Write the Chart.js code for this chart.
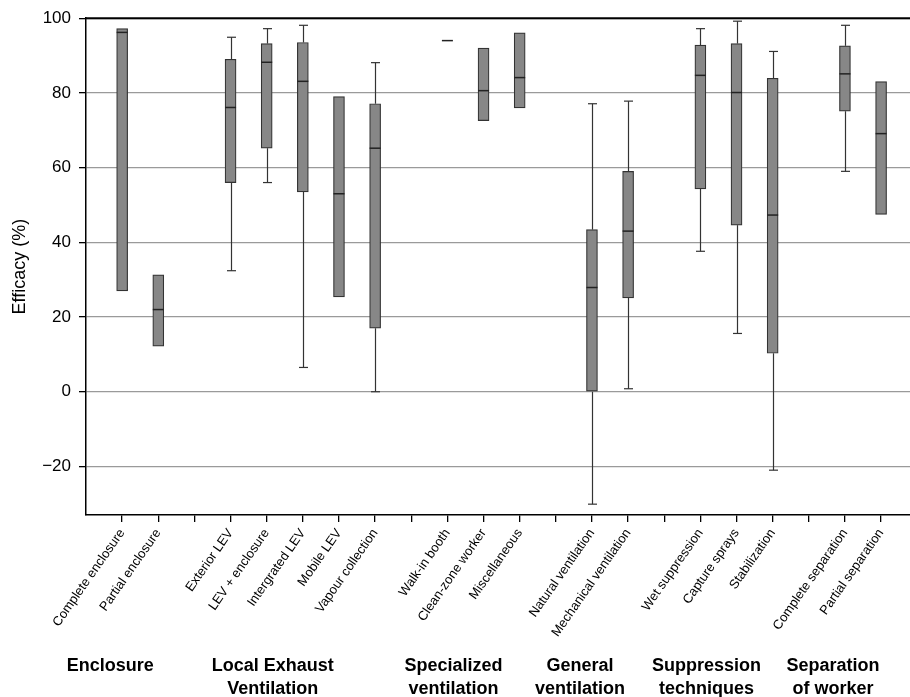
<!DOCTYPE html>
<html>
<head>
<meta charset="utf-8">
<script src="https://cdn.jsdelivr.net/npm/chart.js@4"></script>
<style>
  body { margin: 0; background: #fff; }
</style>
</head>
<body>
<canvas id="c" width="910" height="697"></canvas>
<script>
// control types, one entry per box
const categories = ['Complete enclosure', 'Partial enclosure',
  'Exterior LEV', 'LEV + enclosure', 'Intergrated LEV', 'Mobile LEV', 'Vapour collection',
  'Walk-in booth', 'Clean-zone worker', 'Miscellaneous',
  'Natural ventilation', 'Mechanical ventilation',
  'Wet suppression', 'Capture sprays', 'Stabilization',
  'Complete separation', 'Partial separation'];
const groupOf = [0, 0, 1, 1, 1, 1, 1, 2, 2, 2, 3, 3, 4, 4, 4, 5, 5];
const groupLabels = [['Enclosure'], ['Local Exhaust', 'Ventilation'], ['Specialized', 'ventilation'],
  ['General', 'ventilation'], ['Suppression', 'techniques'], ['Separation', 'of worker']];

const mins    = [27.0, 12.2, 32.4, 56.0, 6.5, 25.4, 0.0, 94, 72.6, 76.0, -30.1, 0.8, 37.6, 15.6, -21.0, 59.0, 47.5];
const q1s     = [27.0, 12.2, 56.0, 65.2, 53.5, 25.4, 17.0, 94, 72.6, 76.0, 0.0, 25.1, 54.3, 44.6, 10.3, 75.1, 47.5];
const medians = [96.2, 22.0, 76.1, 88.2, 83.1, 53.0, 65.2, 94, 80.6, 84.1, 27.9, 43.0, 84.7, 80.1, 47.3, 85.1, 69.1];
const q3s     = [97.2, 31.3, 89.0, 93.2, 93.5, 79.0, 77.1, 94, 92.0, 96.1, 43.4, 59.0, 92.8, 93.2, 83.9, 92.6, 83.0];
const maxs    = [97.2, 31.3, 94.9, 97.2, 98.1, 79.0, 88.1, 94, 92.0, 96.1, 77.1, 77.8, 97.2, 99.2, 91.1, 98.1, 83.0];

const yTicks = [-20, 0, 20, 40, 60, 80, 100];

const FONT = "'Liberation Sans', Arial, sans-serif";

// one empty slot between groups
const slots = categories.map((c, i) => i + groupOf[i]);
const slotLabels = {};
slots.forEach((s, i) => slotLabels[s] = categories[i]);
const lastSlot = slots[slots.length - 1];

const boxPlugin = {
  id: 'boxParts',
  beforeDatasetsDraw(chart) {
    const { ctx, scales: { x, y } } = chart;
    ctx.save();
    ctx.strokeStyle = '#333';
    ctx.lineWidth = 1.2;
    slots.forEach((s, i) => {
      const px = Math.round(x.getPixelForValue(s)) + 0.5;
      const segs = [];
      if (maxs[i] > q3s[i]) segs.push([q3s[i], maxs[i]]);
      if (mins[i] < q1s[i]) segs.push([mins[i], q1s[i]]);
      segs.forEach(([a, b]) => {
        ctx.beginPath();
        ctx.moveTo(px, y.getPixelForValue(a));
        ctx.lineTo(px, y.getPixelForValue(b));
        ctx.stroke();
      });
      if (maxs[i] > q3s[i]) {
        const py = y.getPixelForValue(maxs[i]);
        ctx.beginPath(); ctx.moveTo(px - 4.5, py); ctx.lineTo(px + 4.5, py); ctx.stroke();
      }
      if (mins[i] < q1s[i]) {
        const py = y.getPixelForValue(mins[i]);
        ctx.beginPath(); ctx.moveTo(px - 4.5, py); ctx.lineTo(px + 4.5, py); ctx.stroke();
      }
    });
    ctx.restore();
  },
  afterDatasetsDraw(chart) {
    const { ctx, scales: { x, y } } = chart;
    const meta = chart.getDatasetMeta(0);
    ctx.save();
    ctx.strokeStyle = '#222';
    ctx.lineWidth = 1.5;
    slots.forEach((s, i) => {
      const px = x.getPixelForValue(s);
      const w = meta.data[i].width || 11;
      const py = y.getPixelForValue(medians[i]);
      ctx.beginPath();
      ctx.moveTo(px - w / 2, py);
      ctx.lineTo(px + w / 2, py);
      ctx.stroke();
    });
    ctx.restore();
  },
  afterDraw(chart) {
    const { ctx, chartArea, scales: { x } } = chart;
    ctx.save();
    // top frame line
    ctx.strokeStyle = '#000';
    ctx.lineWidth = 2;
    ctx.beginPath();
    ctx.moveTo(chartArea.left, chartArea.top);
    ctx.lineTo(chart.width, chartArea.top);
    ctx.stroke();
    // group captions under the rotated labels
    ctx.fillStyle = '#000';
    ctx.font = 'bold 18px ' + FONT;
    ctx.textAlign = 'center';
    ctx.textBaseline = 'middle';
    groupLabels.forEach((lines, g) => {
      const members = slots.filter((s, i) => groupOf[i] === g);
      const mid = (members[0] + members[members.length - 1]) / 2;
      const cx = x.getPixelForValue(mid) - 30;
      lines.forEach((t, k) => ctx.fillText(t, cx, chartArea.bottom + 151 + k * 23.5));
    });
    ctx.restore();
  }
};

new Chart(document.getElementById('c'), {
  type: 'bar',
  data: {
    datasets: [{
      data: slots.map((s, i) => ({ x: s, y: [q1s[i], q3s[i]] })),
      backgroundColor: '#878787',
      borderColor: '#333',
      borderWidth: 1.2,
      borderSkipped: false,
      barThickness: 11,
      grouped: false
    }]
  },
  options: {
    responsive: false,
    animation: false,
    layout: { padding: { top: 15, right: 0, left: 0, bottom: 0 } },
    plugins: { legend: { display: false }, tooltip: { enabled: false } },
    scales: {
      x: {
        type: 'linear',
        min: -1,
        max: lastSlot + 0.8,
        offset: false,
        afterBuildTicks: (scale) => {
          scale.ticks = [];
          for (let s = 0; s <= lastSlot; s++) scale.ticks.push({ value: s });
        },
        afterFit: (scale) => { scale.height = 182; },
        grid: { offset: false, drawOnChartArea: false, tickLength: 7, color: '#000', tickColor: '#000', lineWidth: 1.3 },
        border: { color: '#000', width: 1.5 },
        ticks: {
          autoSkip: false,
          minRotation: 55,
          maxRotation: 55,
          padding: 4,
          color: '#000',
          font: { family: FONT, size: 13 },
          callback: (v) => slotLabels[v] || ''
        }
      },
      y: {
        min: -33,
        max: 100,
        afterBuildTicks: (scale) => { scale.ticks = yTicks.map(v => ({ value: v })); },
        afterFit: (scale) => { scale.width = 86; },
        grid: { color: '#9a9a9a', tickColor: '#000', lineWidth: 1.3, tickLength: 7 },
        border: { color: '#000', width: 1.5 },
        ticks: {
          padding: 8,
          color: '#000',
          font: { family: FONT, size: 17 },
          callback: (v) => (v < 0 ? '\u2212' + Math.abs(v) : String(v))
        },
        title: {
          display: true,
          text: 'Efficacy (%)',
          color: '#000',
          font: { family: FONT, size: 18 },
          padding: { top: 9, bottom: 0 }
        }
      }
    }
  },
  plugins: [boxPlugin]
});
</script>
</body>
</html>
